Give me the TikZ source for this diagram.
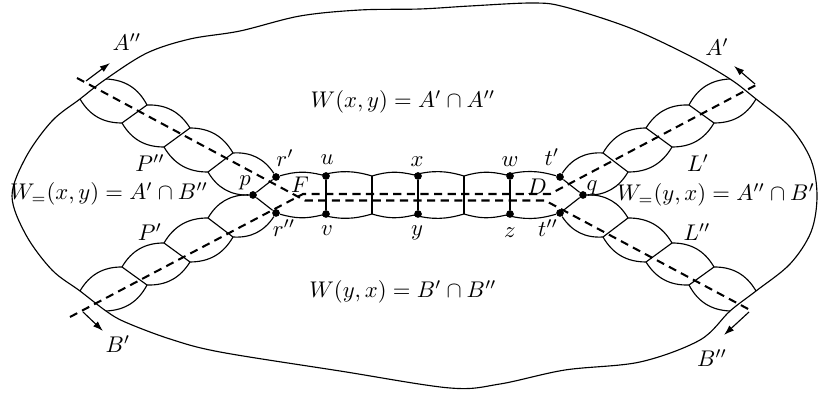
\documentclass[tikz,border=0pt]{standalone}
\usepackage{amsmath,amssymb}
\usetikzlibrary{arrows.meta}
\tikzset{
  dot/.style   ={circle,fill,inner sep=0pt,minimum size=3.4pt},
  lbl/.style   ={inner sep=1pt},
  rim/.style   ={line width=0.5pt},
  cut/.style   ={line width=0.9pt,dash pattern=on 3.6pt off 2.4pt},
  orient/.style={-{Latex[length=4.5pt,width=3pt]},line width=0.5pt},
  lensl/.style ={bend left=30},
  lensr/.style ={bend right=30},
  cell/.style  ={line width=0.5pt},
}

\begin{document}
\begin{tikzpicture}[x=0.0155cm,y=-0.0155cm]
  \useasboundingbox (0,0) rectangle (819,394);

  % outer boundary
  \draw[rim] plot[smooth cycle,tension=0.55] coordinates {
    (106,79) (147,53) (190,39) (240,31) (300,16) (360,10) (420,9)
    (470,6) (533,3) (565,7) (630,28) (690,56) (730,79) (756,99)
    (790,127) (811,160) (817,196) (811,232) (790,264) (756,291)
    (730,311) (700,340) (640,362) (565,370) (500,384) (450,388)
    (340,371) (220,352) (170,339) (125,322) (106,311) (80,291)
    (52,270) (26,235) (12,196) (26,157) (52,121) (80,99)};

  % points of the tube
  \node[dot] (p)   at (253,195) {};
  \node[dot] (q)   at (583,195) {};
  \node[dot] (rp)  at (276,177) {};
  \node[dot] (rpp) at (276,213) {};
  \node[dot] (tp)  at (560,177) {};
  \node[dot] (tpp) at (560,213) {};
  \node[dot] (u)   at (326,176) {};
  \node[dot] (v)   at (326,214) {};
  \node[dot] (x)   at (418,176) {};
  \node[dot] (y)   at (418,214) {};
  \node[dot] (w)   at (510,176) {};
  \node[dot] (z)   at (510,214) {};
  \coordinate (m1) at (372,176);
  \coordinate (m2) at (464,176);
  \coordinate (n1) at (372,214);
  \coordinate (n2) at (464,214);

  % tube
  \draw[cell] (rp) to[bend left=15] (u) to[bend left=15] (m1)
    to[bend left=15] (x) to[bend left=15] (m2) to[bend left=15] (w)
    to[bend left=15] (tp);
  \draw[cell] (rpp) to[bend right=15] (v) to[bend right=15] (n1)
    to[bend right=15] (y) to[bend right=15] (n2) to[bend right=15] (z)
    to[bend right=15] (tpp);
  \draw[cell] (u) -- (v) (m1) -- (n1) (x) -- (y) (m2) -- (n2) (w) -- (z);
  \draw[cell] (p) -- (rp) (p) -- (rpp) (q) -- (tp) (q) -- (tpp);

  % arm P''
  \draw[cell] (106,79) to[lensl] (147,105) to[lensl] (190,128)
    to[lensl] (233,153) to[lensl] (rp);
  \draw[cell] (80,99) to[lensr] (122,123) to[lensr] (164,147)
    to[lensr] (208,172) to[lensr] (p);
  \draw[cell] (122,123) -- (147,105) (164,147) -- (190,128)
    (208,172) -- (233,153);

  % arm P'
  \draw[cell] (80,291) to[lensl] (122,267) to[lensl] (164,243)
    to[lensl] (208,218) to[lensl] (p);
  \draw[cell] (106,311) to[lensr] (147,285) to[lensr] (190,262)
    to[lensr] (233,237) to[lensr] (rpp);
  \draw[cell] (122,267) -- (147,285) (164,243) -- (190,262)
    (208,218) -- (233,237);

  % arm L'
  \draw[cell] (730,79) to[lensr] (689,105) to[lensr] (646,128)
    to[lensr] (603,153) to[lensr] (tp);
  \draw[cell] (756,99) to[lensl] (714,123) to[lensl] (672,147)
    to[lensl] (628,172) to[lensl] (q);
  \draw[cell] (714,123) -- (689,105) (672,147) -- (646,128)
    (628,172) -- (603,153);

  % arm L''
  \draw[cell] (756,291) to[lensr] (714,267) to[lensr] (672,243)
    to[lensr] (628,218) to[lensr] (q);
  \draw[cell] (730,311) to[lensl] (689,285) to[lensl] (646,262)
    to[lensl] (603,237) to[lensl] (tpp);
  \draw[cell] (714,267) -- (689,285) (672,243) -- (646,262)
    (628,218) -- (603,237);

  % dashed cuts
  \coordinate (a2) at (77,78);
  \coordinate (f2) at (305,200.5);
  \coordinate (d2) at (545,200.5);
  \coordinate (b2) at (750,310);
  \coordinate (b1) at (70,317);
  \coordinate (f1) at (303,194);
  \coordinate (d1) at (550,194);
  \coordinate (a1) at (758,84);
  \draw[cut] (a2) -- (f2) -- (d2) -- (b2);
  \draw[cut] (b1) -- (f1) -- (d1) -- (a1);

  % orientations
  \coordinate (oa2) at (86,81);
  \coordinate (ha2) at (110,63);
  \coordinate (ob1) at (83,312);
  \coordinate (hb1) at (103,331);
  \coordinate (oa1) at (755,84);
  \coordinate (ha1) at (734,66);
  \coordinate (ob2) at (749,312);
  \coordinate (hb2) at (724,335);
  \draw[orient] (oa2) -- (ha2);
  \draw[orient] (ob1) -- (hb1);
  \draw[orient] (oa1) -- (ha1);
  \draw[orient] (ob2) -- (hb2);

  % labels
  \node[lbl] (lA2) at (127,42)  {$A''$};
  \node[lbl] (lA1) at (717,47)  {$A'$};
  \node[lbl] (lB1) at (118,344) {$B'$};
  \node[lbl] (lB2) at (712,358) {$B''$};
  \node[lbl] (lWxy) at (403,102) {$W(x,y) = A'\cap A''$};
  \node[lbl] (lWyx) at (403,292) {$W(y,x) = B'\cap B''$};
  \node[lbl] (lWl)  at (109,194) {$W_{=}(x,y) = A'\cap B''$};
  \node[lbl] (lWr)  at (716,195) {$W_{=}(y,x) = A''\cap B'$};
  \node[lbl] (lP2) at (150,163) {$P''$};
  \node[lbl] (lP1) at (150,232) {$P'$};
  \node[lbl] (lL1) at (698,163) {$L'$};
  \node[lbl] (lL2) at (697,232) {$L''$};
  \node[lbl] (lrp)  at (285,158) {$r'$};
  \node[lbl] (lrpp) at (284,228) {$r''$};
  \node[lbl] (lu) at (327,160) {$u$};
  \node[lbl] (lv) at (327,231) {$v$};
  \node[lbl] (lx) at (417,162) {$x$};
  \node[lbl] (ly) at (417,233) {$y$};
  \node[lbl] (lw) at (510,162) {$w$};
  \node[lbl] (lz) at (510,233) {$z$};
  \node[lbl] (ltp)  at (552,157) {$t'$};
  \node[lbl] (ltpp) at (548,228) {$t''$};
  \node[lbl] (lp) at (245,183) {$p$};
  \node[lbl] (lq) at (592,188) {$q$};
  \node[lbl] (lF) at (300,185) {$F$};
  \node[lbl] (lD) at (537,187) {$D$};
\end{tikzpicture}
\end{document}
